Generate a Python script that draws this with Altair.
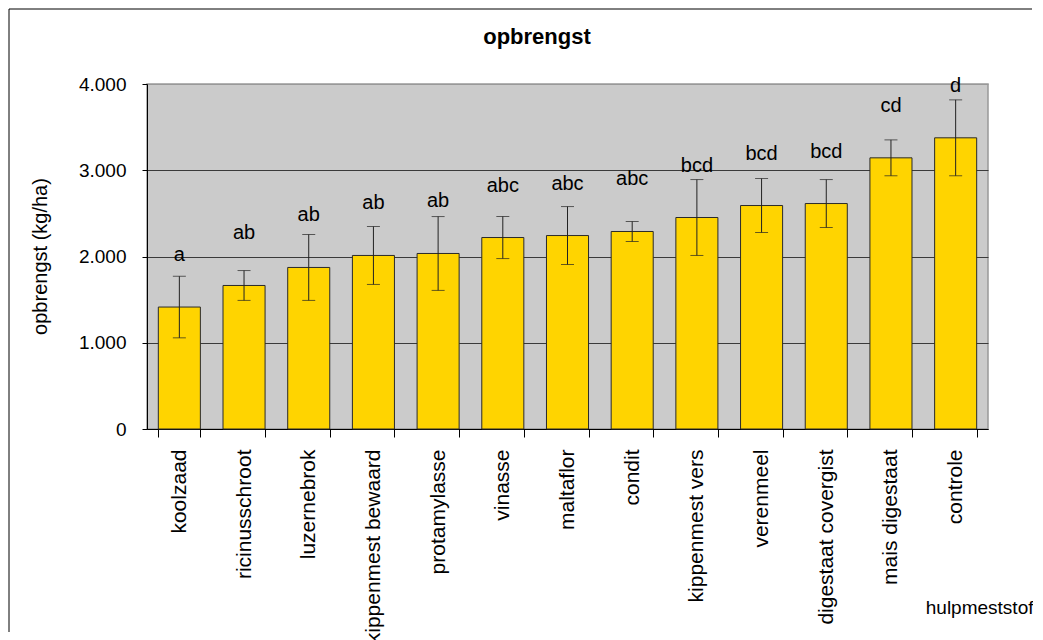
import altair as alt
import pandas as pd

categories = ["koolzaad", "ricinusschroot", "luzernebrok", "kippenmest bewaard",
              "protamylasse", "vinasse", "maltaflor", "condit", "kippenmest vers",
              "verenmeel", "digestaat covergist", "mais digestaat", "controle"]
means = [1414, 1664, 1873, 2012, 2035, 2220, 2243, 2290, 2452, 2591, 2614, 3144, 3376]
errors = [357, 173, 382, 336, 428, 244, 336, 116, 440, 313, 278, 208, 440]
letters = ["a", "ab", "ab", "ab", "ab", "abc", "abc", "abc", "bcd", "bcd", "bcd", "cd", "d"]
title_text = "opbrengst"

df = pd.DataFrame({"cat": categories, "mean": means, "err": errors, "letter": letters})
df["lo"] = df["mean"] - df["err"]
df["hi"] = df["mean"] + df["err"]

FONT = "Liberation Sans"

x_enc = alt.X("cat:N", sort=categories,
              scale=alt.Scale(paddingInner=0.35, paddingOuter=0.175),
              axis=alt.Axis(title="hulpmeststof", labelAngle=270, labelFontSize=21,
                            labelFont=FONT, labelColor="black", labelPadding=12,
                            tickBand="extent", tickSize=8, tickColor="black",
                            domainColor="black", labelLimit=400,
                            titleFont=FONT, titleFontSize=19, titleFontWeight="normal",
                            titleColor="black", titleAngle=0, titleAlign="right",
                            titleBaseline="alphabetic", titleX=886, titleY=184))

y_scale = alt.Scale(domain=[0, 4000], nice=False)

bars = alt.Chart(df).mark_bar(color="#FFD400", stroke="#2a2a2a", strokeWidth=1).encode(
    x=x_enc,
    y=alt.Y("mean:Q", scale=y_scale,
            axis=alt.Axis(title="opbrengst (kg/ha)", values=[0, 1000, 2000, 3000, 4000],
                          labelExpr="replace(format(datum.value, ','), ',', '.')",
                          labelFont=FONT, labelFontSize=19, labelColor="black",
                          labelPadding=16, tickSize=5, tickColor="black",
                          domainColor="black", grid=True,
                          gridColor=alt.condition("datum.value >= 4000",
                                                  alt.value("#999999"),
                                                  alt.value("#3a3a3a")),
                          titleFont=FONT, titleFontSize=20, titleFontWeight="normal",
                          titleColor="black", titleBaseline="middle",
                          titleX=-107, titleY=172)),
)

rules = alt.Chart(df).mark_rule(color="#222", strokeWidth=1).encode(
    x=alt.X("cat:N", sort=categories),
    y=alt.Y("lo:Q", scale=y_scale),
    y2="hi:Q",
)

caps_hi = alt.Chart(df).mark_tick(color="#222", size=13, thickness=1).encode(
    x=alt.X("cat:N", sort=categories),
    y=alt.Y("hi:Q", scale=y_scale),
)
caps_lo = alt.Chart(df).mark_tick(color="#222", size=13, thickness=1).encode(
    x=alt.X("cat:N", sort=categories),
    y=alt.Y("lo:Q", scale=y_scale),
)

labels = alt.Chart(df).mark_text(font=FONT, fontSize=20, color="black",
                                 baseline="alphabetic", dy=-46).encode(
    x=alt.X("cat:N", sort=categories),
    y=alt.Y("mean:Q", scale=y_scale),
    text="letter:N",
)

frame_df = pd.DataFrame({"t": [title_text]})
top_border = alt.Chart(frame_df).mark_rule(color="black", strokeWidth=1).encode(
    x=alt.value(-138), x2=alt.value(885), y=alt.value(-75))
left_border = alt.Chart(frame_df).mark_rule(color="black", strokeWidth=1).encode(
    x=alt.value(-138), y=alt.value(-75), y2=alt.value(548))
title = alt.Chart(frame_df).mark_text(font=FONT, fontSize=22, fontWeight="bold",
                                      color="black", baseline="alphabetic").encode(
    x=alt.value(390), y=alt.value(-40), text="t:N")

chart = alt.layer(bars, rules, caps_hi, caps_lo, labels, top_border, left_border,
                  title).properties(
    width=841, height=345,
    padding=0,
    background="white",
).configure_view(fill="#CBCBCB", stroke="#999999", strokeWidth=1.5)

chart.save("out.html", embed_options={"renderer": "svg", "actions": False})
